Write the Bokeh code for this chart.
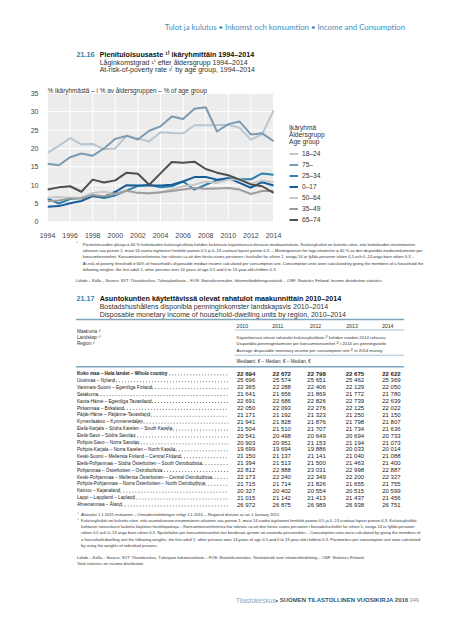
from bokeh.plotting import figure
from bokeh.models import Range1d, FixedTicker, BoxAnnotation, Legend, LegendItem
from bokeh.layouts import column
from bokeh.embed import file_html
from bokeh.resources import INLINE
from bokeh.core.properties import value

# ---------------- data: 21.16 at-risk-of-poverty rate by age group ----------------
years = list(range(1994, 2015))
age_groups = ["18–24", "75–", "25–34", "0–17", "50–64", "35–49", "65–74"]
rate_18_24 = [18.8, 20.7, 22.8, 21.1, 21.2, 19.8, 20.0, 23.5, 22.7, 21.9, 24.4, 24.2, 24.1, 26.3, 26.3, 26.4, 26.4, 25.6, 22.4, 23.9, 30.3]
rate_75 = [15.8, 15.4, 17.6, 18.6, 18.0, 20.0, 22.6, 23.4, 22.4, 24.8, 26.0, 28.7, 28.0, 30.8, 31.2, 24.6, 26.6, 27.3, 23.8, 24.1, 22.0]
rate_25_34 = [6.3, 5.0, 6.2, 6.6, 7.2, 6.5, 7.2, 8.5, 9.8, 10.1, 9.4, 9.7, 11.0, 8.8, 10.1, 11.3, 11.9, 11.6, 11.6, 13.2, 12.8]
rate_0_17 = [4.1, 4.3, 5.1, 5.7, 7.0, 6.8, 8.2, 10.0, 9.9, 9.9, 9.9, 10.1, 11.0, 12.2, 12.2, 11.5, 11.9, 10.6, 9.3, 10.8, 9.9]
rate_50_64 = [6.6, 6.8, 6.6, 6.6, 7.9, 8.2, 7.6, 8.5, 7.9, 7.7, 8.0, 8.8, 9.7, 10.1, 11.0, 10.6, 11.5, 11.6, 10.4, 11.3, 10.8]
rate_35_49 = [5.6, 5.8, 6.4, 6.4, 7.3, 7.0, 7.7, 8.5, 7.9, 7.8, 8.1, 8.4, 8.8, 9.2, 9.0, 9.1, 9.2, 8.8, 7.6, 8.4, 8.4]
rate_65_74 = [8.8, 9.4, 9.7, 8.2, 11.5, 10.7, 11.3, 13.4, 13.1, 10.1, 13.2, 16.3, 16.1, 16.4, 14.4, 13.4, 12.7, 11.5, 10.2, 9.7, 7.9]
x_ticks = [1994, 1996, 1998, 2000, 2002, 2004, 2006, 2008, 2010, 2012, 2014]
y_ticks = [0, 5, 10, 15, 20, 25, 30, 35]

# ---------------- data: 21.17 disposable monetary income by region ----------------
table_years = ["2010", "2011", "2012", "2013", "2014"]
regions = [
    "Koko maa – Hela landet – Whole country",
    "Uusimaa – Nyland",
    "Varsinais-Suomi – Egentliga Finland",
    "Satakunta",
    "Kanta-Häme – Egentliga Tavastland",
    "Pirkanmaa – Birkaland",
    "Päijät-Häme – Päijänne-Tavastland",
    "Kymenlaakso – Kymmenedalen",
    "Etelä-Karjala – Södra Karelen – South Karelia",
    "Etelä-Savo – Södra Savolax",
    "Pohjois-Savo – Norra Savolax",
    "Pohjois-Karjala – Norra Karelen – North Karelia",
    "Keski-Suomi – Mellersta Finland – Central Finland",
    "Etelä-Pohjanmaa – Södra Österbotten – South Ostrobothnia",
    "Pohjanmaa – Österbotten – Ostrobothnia",
    "Keski-Pohjanmaa – Mellersta Österbotten – Central Ostrobothnia",
    "Pohjois-Pohjanmaa – Norra Österbotten – North Ostrobothnia",
    "Kainuu – Kajanaland",
    "Lappi – Lappland – Lapland",
    "Ahvenanmaa – Åland",
]
income_2010 = [22694, 25696, 22365, 21641, 22691, 22050, 21171, 21941, 21504, 20541, 20903, 19699, 21150, 21394, 22812, 22173, 21715, 20327, 21015, 26972]
income_2011 = [22672, 25574, 22288, 21656, 22686, 22093, 21192, 21828, 21510, 20498, 20951, 19694, 21137, 21513, 22888, 22240, 21714, 20402, 21142, 26875]
income_2012 = [22798, 25651, 22406, 21869, 22826, 22276, 21323, 21876, 21707, 20649, 21153, 19886, 21141, 21500, 23031, 22349, 21826, 20554, 21413, 26989]
income_2013 = [22675, 25462, 22129, 21772, 22739, 22125, 21250, 21798, 21734, 20694, 21194, 20033, 21040, 21463, 22998, 22200, 21655, 20515, 21437, 26938]
income_2014 = [22622, 25369, 22050, 21780, 22639, 22022, 21150, 21807, 21636, 20733, 21073, 20014, 21088, 21400, 22887, 22327, 21755, 20599, 21456, 26751]

# ---------------- texts ----------------
header_text = "Tulot ja kulutus • Inkomst och konsumtion • Income and Consumption"
t16_num = "21.16"
t16_title = "Pienituloisuusaste ¹⁾ ikäryhmittäin 1994–2014"
t16_sub = ["Låginkomstgrad ¹⁾ efter åldersgrupp 1994–2014",
           "At-risk-of-poverty rate ¹⁾ by age group, 1994–2014"]
unit_text = "% ikäryhmästä – i % av åldersgruppen – % of age group"
legend_title = "Ikäryhmä\nÅldersgrupp\nAge group"
foot16 = [
    "Pienituloisuuden yläraja = 60 % kotitalouden kulutusyksikköä kohden lasketusta käytettävissä olevasta mediaanitulosta. Kulutusyksiköt on laskettu siten, että kotitalouden ensimmäinen",
    "aikuinen saa painon 1, muut 14 vuotta täyttäneet henkilöt painon 0,5 ja 0–13-vuotiaat lapset painon 0,3. – Minimigränsen för låga inkomster = 60 % av den disponibla medianinkomsten per",
    "konsumtionsenhet. Konsumtionsenheterna har räknats så att den första vuxna personen i hushållet får vikten 1, övriga 14 år fyllda personer vikten 0,5 och 0–13-åriga barn vikten 0,3 –",
    "At-risk-of-poverty threshold = 60% of household's disposable median income calculated per consumption unit. Consumption units were calculated by giving the members of a household the",
    "following weights: the first adult 1, other persons over 14 years of age 0.5 and 0 to 13-year-old children 0.3.",
]
source16 = "Lähde – Källa – Source: SVT: Tilastokeskus, Tulonjakotilasto – FOS: Statistikcentralen, Inkomstfördelningsstatistik – OSF: Statistics Finland, Income distribution statistics"
t17_num = "21.17"
t17_title = "Asuntokuntien käytettävissä olevat rahatulot maakunnittain 2010–2014"
t17_sub = ["Bostadshushållens disponibla penninginkomster landskapsvis 2010–2014",
           "Disposable monetary income of household-dwelling units by region, 2010–2014"]
stub_head = ["Maakunta ¹⁾", "Landskap ¹⁾", "Region ¹⁾"]
measure_head = ["Käytettävissä olevat rahatulot kulutusyksikköä ²⁾ kohden vuoden 2014 rahassa",
                "Disponibla penninginkomster per konsumtionsenhet ²⁾ i 2014 års penningvärde",
                "Average disposable monetary income per consumption unit ²⁾ in 2014 money"]
unit17 = "Mediaani, € – Median, € – Median, €"
foot17_1 = "Aluejako 1.1.2015 mukainen – Områdesindelningen enligt 1.1.2015 – Regional division as on 1 January 2015."
foot17_2 = [
    "Kulutusyksiköt on laskettu siten, että asuntokunnan ensimmäinen aikuinen saa painon 1, muut 14 vuotta täyttäneet henkilöt painon 0,5 ja 0–13-vuotiaat lapset painon 0,3. Kulutusyksikkö-",
    "kohtaiset tunnusluvut laskettu käyttäen henkilöpainoja – Konsumtionsenheterna har räknats så att den första vuxna personen i bostadshushållet får vikten 1, övriga 14 år fyllda personer",
    "vikten 0,5 och 0–13 åriga barn vikten 0,3. Nyckeltalen per konsumtionsenhet har beräknats genom att använda personvikter – Consumption units were calculated by giving the members of",
    "a household-dwelling unit the following weights: the first adult 1, other persons over 14 years of age 0.5 and 0 to 13-year-old children 0.3. Parameters per consumption unit were calculated",
    "by using the weights of individual persons.",
]
source17 = ["Lähde – Källa – Source: SVT: Tilastokeskus, Tulonjaon kokonaistilasto – FOS: Statistikcentralen, Totalstatistik över inkomstfördelning – OSF: Statistics Finland,",
            "Total statistics on income distribution"]
footer_a = "Tilastokeskus"
footer_b = "SUOMEN TILASTOLLINEN VUOSIKIRJA 2016"
page_no = "349"

# ---------------- styles ----------------
W = 434
SANS = "Liberation Sans"
HEAD = "Lato"
BLUE = "#2f80b4"
RULE = "#7ea6bf"
TXT = "#2a2a2a"
colors = {"18–24": "#b8c6d1", "75–": "#7b9bb3", "25–34": "#2c80a9", "0–17": "#185c99",
          "50–64": "#c8c8c8", "35–49": "#9d9d9d", "65–74": "#4e4e4e"}
series = {"18–24": rate_18_24, "75–": rate_75, "25–34": rate_25_34, "0–17": rate_0_17,
          "50–64": rate_50_64, "35–49": rate_35_49, "65–74": rate_65_74}


def page_fig(top, height):
    f = figure(width=W, height=height, x_range=Range1d(8, 8 + W), y_range=Range1d(top + height, top),
               x_axis_type=None, y_axis_type=None, toolbar_location=None, output_backend="svg",
               min_border=0, outline_line_color=None)
    f.grid.visible = False
    return f


def txt(f, xs, ys, ss, size, color=TXT, font=SANS, style="normal", align="left"):
    f.text(x=xs, y=ys, text=ss, text_font=value(font), text_font_size=f"{size}px",
           text_color=color, text_font_style=style, text_align=align, text_baseline="middle")


def hrule(f, x0, x1, y, w=1.0, color=RULE):
    f.segment(x0=[x0], x1=[x1], y0=[y], y1=[y], line_color=color, line_width=w)


# rough Arial advance widths (1/1000 em) to place dot leaders
AW = {' ': 278, 'a': 556, 'b': 556, 'c': 500, 'd': 556, 'e': 556, 'f': 278, 'g': 556, 'h': 556, 'i': 222,
      'j': 222, 'k': 500, 'l': 222, 'm': 833, 'n': 556, 'o': 556, 'p': 556, 'q': 556, 'r': 333, 's': 500,
      't': 278, 'u': 556, 'v': 500, 'w': 722, 'x': 500, 'y': 500, 'z': 500, 'ä': 556, 'ö': 556, 'å': 556,
      'A': 667, 'B': 667, 'C': 722, 'D': 722, 'E': 667, 'F': 611, 'G': 778, 'H': 722, 'I': 278, 'J': 500,
      'K': 667, 'L': 556, 'M': 833, 'N': 722, 'O': 778, 'P': 667, 'Q': 778, 'R': 722, 'S': 667, 'T': 611,
      'U': 722, 'V': 667, 'W': 944, 'X': 667, 'Y': 667, 'Z': 611, 'Ä': 667, 'Å': 667, 'Ö': 778, '–': 556,
      '-': 333, '.': 278}


def est_width(s, size, factor):
    return sum(AW.get(c, 556) for c in s) / 1000.0 * size * factor


# ================= top block (page y 8..93) =================
fA = page_fig(8, 85)
txt(fA, [409], [34.5], [header_text], 7.8, "#3f8fbd", HEAD, align="right")
txt(fA, [40.5], [61.7], [t16_num], 7.2, BLUE, SANS, "bold")
txt(fA, [66.5], [61.7], [t16_title], 7.2, "#111111", SANS, "bold")
txt(fA, [66.5, 66.5], [69.8, 77.4], t16_sub, 7.0, "#333333", SANS)

# ================= chart (page y 93..248) =================
PX_PER_YEAR = 11.3
PX_PER_UNIT = 3.78
frame_w = W - 47
chart = figure(width=W, height=155,
               x_range=Range1d(1994, 1994 + frame_w / PX_PER_YEAR),
               y_range=Range1d(-(237 - 233.3) / PX_PER_UNIT, 35 + (101 - 93) / PX_PER_UNIT),
               toolbar_location=None, output_backend="svg",
               min_border_left=47, min_border_right=0, min_border_top=0, min_border_bottom=11,
               outline_line_color=None)
chart.grid.visible = False
chart.add_layout(BoxAnnotation(left=years[0], right=years[-1], bottom=y_ticks[0], top=y_ticks[-1],
                               fill_color="#ececec", fill_alpha=1, line_color=None, level="image"))
chart.segment(x0=[years[0]] * len(y_ticks), x1=[years[-1]] * len(y_ticks), y0=y_ticks, y1=y_ticks,
              line_color="white", line_width=1, level="underlay")
chart.segment(x0=x_ticks, x1=x_ticks, y0=[y_ticks[0]] * len(x_ticks), y1=[y_ticks[-1]] * len(x_ticks),
              line_color="white", line_width=1, level="underlay")

items = []
for g in age_groups:
    r = chart.line(years, series[g], line_color=colors[g], line_width=2, line_join="round")
    items.append(LegendItem(label=g, renderers=[r]))

for ax, ticks in ((chart.xaxis[0], x_ticks), (chart.yaxis[0], y_ticks)):
    ax.ticker = FixedTicker(ticks=ticks)
    ax.axis_line_color = None
    ax.major_tick_line_color = None
    ax.minor_tick_line_color = None
    ax.major_label_text_font = SANS
    ax.major_label_text_font_size = "7px"
    ax.major_label_text_color = "#444444"
chart.xaxis[0].major_label_standoff = 1
chart.yaxis[0].major_label_standoff = 3

chart.text(x=[years[0]], y=[35.87], text=[unit_text], text_font=value(SANS), text_font_size="6.4px",
           text_color="#333333", text_align="left", text_baseline="middle")

legend = Legend(items=items, location=(297 - 55, 0), title=legend_title,
                title_text_font=SANS, title_text_font_size="6.6px", title_text_font_style="normal",
                title_text_color="#333333", title_text_line_height=1.0, title_standoff=3,
                label_text_font=SANS, label_text_font_size="6.6px", label_text_color="#333333",
                glyph_width=9, glyph_height=11, label_height=11, label_standoff=4,
                spacing=0, padding=0, margin=0, border_line_alpha=0, background_fill_alpha=0)
chart.add_layout(legend)

# ================= bottom block (page y 248..632) =================
fC = page_fig(248, 384)
FN = 4.1
SUP = 3.6
txt(fC, [40], [250.5], ["¹⁾"], SUP, "#333333", SANS)
txt(fC, [47.5] * len(foot16), [251.5 + 6.4 * i for i in range(len(foot16))], foot16, FN, "#333333", SANS)
txt(fC, [40], [288], [source16], FN, "#333333", SANS)

txt(fC, [40.5], [305.8], [t17_num], 7.2, BLUE, SANS, "bold")
txt(fC, [66.5], [305.8], [t17_title], 7.2, "#111111", SANS, "bold")
txt(fC, [66.5, 66.5], [314.2, 321.8], t17_sub, 7.0, "#333333", SANS)

hrule(fC, 40, 408, 327, 1.4)
col_left = [220, 260, 302, 343, 383]
col_right = [241, 281, 320, 363, 404]
txt(fC, col_left, [333] * 5, table_years, 5.2, "#333333", SANS)
hrule(fC, 218, 408, 337.5, 0.7)
txt(fC, [41] * 3, [338.5, 344.6, 350.7], stub_head, 4.6, "#333333", SANS)
txt(fC, [220] * 3, [345, 351.4, 357.7], measure_head, 4.3, "#333333", SANS)
hrule(fC, 218, 408, 362.7, 0.7)
txt(fC, [220], [369], [unit17], 4.6, "#333333", SANS)
hrule(fC, 40, 408, 374.3, 1.4)

ROW0, ROWH, LBL = 381, 6.9, 4.7
incomes = [income_2010, income_2011, income_2012, income_2013, income_2014]
for i, name in enumerate(regions):
    y = ROW0 + i * ROWH
    style = "bold" if i == 0 else "normal"
    txt(fC, [41], [y], [name], LBL, "#222222", SANS, style)
    end = 41 + est_width(name, LBL, 1.07 if i == 0 else 1.0) + 2
    fC.segment(x0=[end], x1=[211], y0=[y + 1.4], y1=[y + 1.4], line_color="#555555",
               line_width=0.8, line_dash="1 2")
    vals = [f"{col[i]:,}".replace(",", " ") for col in incomes]
    txt(fC, col_right, [y] * 5, vals, 6.0, "#222222", SANS, style, align="right")

txt(fC, [41], [521.5], ["¹⁾"], SUP, "#333333", SANS)
txt(fC, [45.7], [522.3], [foot17_1], FN, "#333333", SANS)
txt(fC, [41], [527.2], ["²⁾"], SUP, "#333333", SANS)
txt(fC, [45.7] * len(foot17_2), [527.7 + 6.3 * i for i in range(len(foot17_2))], foot17_2, FN, "#333333", SANS)
txt(fC, [41, 41], [565, 571.4], source17, FN, "#333333", SANS)

txt(fC, [219], [607.7], [footer_a], 6.7, "#86a8bf", SANS)
txt(fC, [265], [607.7], ["•"], 6.7, "#2a5a70", SANS, align="center")
txt(fC, [268.5], [607.7], [footer_b], 6.0, "#2a5a70", SANS, "bold")
txt(fC, [414], [607.7], [page_no], 5.6, "#8a8a8a", SANS)

layout = column(fA, chart, fC, spacing=0)
open("out.html", "w").write(file_html(layout, INLINE))
